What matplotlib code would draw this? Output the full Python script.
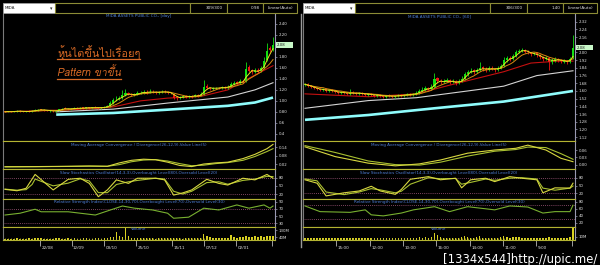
import numpy as np
import pandas as pd
import matplotlib
matplotlib.use("Agg")
import matplotlib.pyplot as plt
from matplotlib import font_manager as fm
from matplotlib.ft2font import FT2Font
from matplotlib.font_manager import FontProperties
from matplotlib.patches import Rectangle
from matplotlib.ticker import MultipleLocator
from matplotlib.transforms import blended_transform_factory, ScaledTranslation

# ------------------------------------------------------------------ data
# ---- left window: daily
left_open = [0.81,0.80,0.81,0.80,0.81,0.82,0.81,0.80,0.82,0.81,0.82,0.82,0.85,0.84,0.83,0.81,0.82,0.81,
             0.83,0.85,0.87,0.86,0.85,0.86,0.87,0.86,0.88,0.87,0.88,0.87,0.89,0.88,0.87,0.88,0.89,
             0.90,0.97,1.03,1.04,1.06,1.10,1.15,1.12,1.10,1.12,
             1.14,1.15,1.17,1.15,1.17,1.16,1.15,1.16,1.17,1.16,1.15,1.12,1.07,
             1.05,1.07,1.08,1.07,1.09,1.08,1.10,1.09,1.12,1.27,1.24,1.22,1.23,1.24,1.23,1.25,1.24,
             1.26,1.30,1.34,1.32,1.37,1.36,1.62,1.56,1.52,1.57,1.54,1.60,1.74,1.96,1.92]
left_close = [0.80,0.81,0.80,0.81,0.82,0.81,0.80,0.81,0.81,0.82,0.83,0.84,0.84,0.83,0.82,0.82,0.81,0.82,
              0.85,0.86,0.86,0.85,0.86,0.87,0.86,0.87,0.87,0.88,0.87,0.88,0.88,0.87,0.88,0.89,0.90,
              0.96,1.02,1.04,1.06,1.10,1.14,1.12,1.10,1.12,1.14,
              1.15,1.16,1.15,1.17,1.16,1.15,1.16,1.17,1.16,1.15,1.14,1.06,1.05,
              1.07,1.08,1.07,1.09,1.08,1.10,1.09,1.12,1.26,1.24,1.22,1.23,1.24,1.23,1.25,1.24,1.26,
              1.30,1.33,1.32,1.36,1.34,1.58,1.55,1.52,1.56,1.53,1.60,1.72,1.90,1.93,2.02]
left_high = [0.82,0.82,0.82,0.82,0.83,0.83,0.82,0.82,0.83,0.83,0.85,0.86,0.86,0.85,0.84,0.83,0.83,0.83,
             0.86,0.87,0.88,0.87,0.87,0.88,0.88,0.88,0.89,0.89,0.89,0.89,0.90,0.89,0.89,0.90,0.92,
             0.99,1.05,1.08,1.09,1.20,1.21,1.17,1.14,1.15,1.18,
             1.18,1.19,1.19,1.21,1.19,1.18,1.18,1.20,1.19,1.18,1.17,1.13,1.09,
             1.09,1.10,1.10,1.11,1.11,1.12,1.12,1.16,1.38,1.30,1.26,1.25,1.26,1.26,1.27,1.27,1.29,
             1.35,1.37,1.36,1.40,1.38,1.70,1.66,1.58,1.60,1.60,1.64,1.80,2.05,1.99,2.17]
left_low = [0.79,0.79,0.79,0.79,0.80,0.80,0.79,0.79,0.80,0.80,0.81,0.81,0.83,0.82,0.81,0.80,0.80,0.80,
            0.82,0.84,0.85,0.84,0.84,0.85,0.85,0.85,0.86,0.86,0.86,0.86,0.87,0.86,0.86,0.87,0.88,
            0.89,0.95,1.00,1.02,1.04,1.08,1.10,1.08,1.08,1.10,
            1.12,1.13,1.13,1.14,1.14,1.13,1.13,1.14,1.14,1.13,1.12,1.03,1.02,
            1.04,1.05,1.05,1.06,1.06,1.07,1.07,1.08,1.11,1.22,1.20,1.20,1.21,1.21,1.21,1.22,1.22,
            1.25,1.28,1.30,1.30,1.32,1.35,1.52,1.49,1.50,1.50,1.52,1.58,1.72,1.88,1.90]
left_volume_m = [24,22,25,23,26,24,22,25,27,24,30,28,26,24,22,25,23,26,
                 28,25,24,26,23,27,25,24,26,28,25,23,27,26,24,29,32,
                 45,38,109,60,42,170,50,35,30,33,
                 30,28,26,29,27,25,28,30,27,26,29,35,30,
                 27,25,28,26,30,27,29,35,80,60,38,30,28,32,30,29,34,
                 68,40,36,45,42,50,44,38,55,40,50,45,60,55,58]
left_red_idx = [0, 18, 30, 36, 45, 54, 65, 74, 83, 89]
left_red = [0.80, 0.83, 0.86, 0.89, 1.00, 1.05, 1.08, 1.20, 1.47, 1.64]
left_white_idx = [17, 36, 54, 74, 83, 89]
left_white = [0.80, 0.85, 0.96, 1.07, 1.20, 1.33]
left_cyan_idx = [17, 36, 54, 74, 83, 89]
left_cyan = [0.75, 0.78, 0.84, 0.91, 0.97, 1.06]
left_macd_idx = [0, 10, 21, 28, 34, 38, 42, 46, 50, 54, 58, 62, 66, 70, 74, 79, 83, 87, 89]
left_macd = [0.003, 0.004, 0.006, 0.008, 0.006, 0.030, 0.048, 0.056, 0.052, 0.035, 0.012, 0.004,
             0.022, 0.030, 0.035, 0.060, 0.090, 0.130, 0.160]
left_macd_sig = [0.002, 0.003, 0.005, 0.007, 0.006, 0.018, 0.038, 0.050, 0.053, 0.043, 0.025, 0.010,
                 0.014, 0.025, 0.032, 0.048, 0.075, 0.110, 0.130]
left_stoch_idx = [0, 4, 7, 9, 10, 16, 21, 25, 28, 31, 34, 37, 41, 44, 50, 53, 56, 59, 62, 67, 71, 74, 79, 83, 87, 89]
left_stoch_k = [37, 32, 41, 75, 92, 35, 74, 78, 59, 10, 35, 72, 59, 78, 78, 72, 16, 24, 35, 74, 59, 53, 78, 72, 92, 78]
left_stoch_d = [38, 34, 36, 55, 75, 50, 60, 76, 68, 25, 25, 55, 65, 70, 78, 75, 30, 20, 30, 62, 65, 56, 70, 75, 85, 84]
left_rsi_idx = [0, 5, 10, 12, 21, 30, 35, 39, 43, 49, 54, 56, 61, 66, 71, 77, 81, 86, 88, 89]
left_rsi = [53, 58, 69, 62, 62, 53, 67, 78, 72, 67, 58, 44, 47, 72, 67, 81, 72, 81, 72, 78]
left_date_pos = [11.7, 22.1, 33.0, 43.6, 55.4, 66.1, 76.8, 88.6]
left_date_labels = ["22/08", "12/09", "03/10", "25/10", "15/11", "07/12", "02/01", ""]

# ---- right window: 60 minutes
right_open = [1.66,1.67,1.65,1.64,1.63,1.62,1.61,1.62,1.60,1.61,1.60,
              1.59,1.58,1.59,1.58,1.57,1.59,1.58,1.57,1.58,1.57,1.56,
              1.57,1.56,1.55,1.56,1.55,1.54,1.56,1.55,1.54,1.55,1.56,1.55,1.56,1.57,1.56,1.57,
              1.58,1.60,1.61,1.63,1.62,1.64,1.73,1.70,1.69,1.70,1.71,1.69,1.70,1.68,1.70,
              1.72,1.78,1.80,1.82,1.80,1.82,1.85,1.83,1.82,1.84,1.83,1.82,1.84,1.86,1.92,1.94,1.93,
              1.96,2.00,2.02,2.03,2.02,2.00,1.98,1.99,1.97,1.95,1.93,1.94,1.90,1.92,1.93,1.92,1.90,1.91,1.90,1.94]
right_close = [1.67,1.65,1.64,1.63,1.62,1.61,1.62,1.60,1.61,1.60,1.59,
               1.58,1.59,1.58,1.57,1.58,1.58,1.57,1.58,1.57,1.56,1.57,
               1.56,1.55,1.56,1.55,1.54,1.55,1.55,1.54,1.55,1.56,1.55,1.56,1.57,1.56,1.57,1.58,
               1.60,1.61,1.63,1.62,1.64,1.72,1.70,1.69,1.70,1.71,1.69,1.70,1.68,1.70,1.72,
               1.78,1.80,1.81,1.80,1.82,1.84,1.83,1.82,1.84,1.83,1.82,1.84,1.86,1.92,1.94,1.93,1.96,
               2.00,2.02,2.03,2.01,2.00,1.98,1.99,1.97,1.95,1.93,1.94,1.90,1.92,1.93,1.92,1.91,1.91,1.90,1.93,2.05]
right_high = [1.68,1.68,1.66,1.65,1.64,1.63,1.63,1.63,1.62,1.62,1.61,
              1.60,1.60,1.60,1.59,1.62,1.60,1.59,1.59,1.59,1.58,1.58,
              1.58,1.57,1.57,1.57,1.56,1.56,1.57,1.56,1.56,1.57,1.57,1.57,1.58,1.58,1.58,1.60,
              1.62,1.64,1.65,1.64,1.67,1.79,1.75,1.72,1.72,1.73,1.72,1.72,1.71,1.72,1.76,
              1.80,1.82,1.84,1.83,1.84,1.90,1.86,1.85,1.86,1.86,1.84,1.86,1.88,1.95,1.96,1.96,1.98,
              2.03,2.04,2.05,2.04,2.03,2.01,2.01,2.00,1.98,1.96,1.96,1.95,1.94,1.95,1.94,1.93,1.93,1.92,1.95,2.18]
right_low = [1.65,1.64,1.63,1.62,1.61,1.60,1.60,1.59,1.59,1.59,1.58,
             1.57,1.57,1.57,1.56,1.56,1.57,1.56,1.56,1.56,1.55,1.55,
             1.55,1.54,1.54,1.54,1.53,1.53,1.54,1.53,1.53,1.54,1.54,1.54,1.55,1.55,1.55,1.56,
             1.57,1.59,1.60,1.61,1.61,1.63,1.68,1.67,1.68,1.69,1.67,1.68,1.66,1.67,1.69,
             1.71,1.76,1.79,1.78,1.79,1.81,1.81,1.80,1.81,1.82,1.80,1.81,1.83,1.85,1.90,1.91,1.92,
             1.95,1.99,2.00,1.99,1.98,1.96,1.97,1.95,1.93,1.91,1.92,1.82,1.88,1.90,1.90,1.89,1.89,1.88,1.89,1.93]
right_volume_m = [7,6,5,7,6,5,6,7,5,6,5,
                  6,5,7,6,8,5,6,5,6,7,5,
                  6,5,6,7,5,6,5,6,5,7,6,5,6,7,6,8,
                  9,8,10,8,9,22,18,9,7,8,6,7,6,8,10,
                  14,9,8,7,9,12,8,7,8,6,7,8,9,13,10,8,9,
                  10,9,8,7,8,7,6,7,8,7,6,11,8,7,6,7,6,7,9,45]
right_red_idx = [0, 21, 37, 48, 66, 75, 84, 89]
right_red = [1.57, 1.54, 1.57, 1.66, 1.80, 1.89, 1.91, 1.91]
right_white_idx = [0, 21, 37, 54, 66, 77, 89]
right_white = [1.42, 1.50, 1.53, 1.60, 1.65, 1.76, 1.81]
right_cyan_idx = [0, 21, 43, 66, 89]
right_cyan = [1.30, 1.35, 1.42, 1.49, 1.60]
right_macd_idx = [0, 10, 21, 30, 38, 45, 54, 63, 70, 74, 80, 85, 89]
right_macd = [0.073, 0.033, 0.006, -0.005, 0.003, 0.019, 0.047, 0.060, 0.067, 0.080, 0.060, 0.026, 0.012]
right_macd_sig = [0.078, 0.050, 0.015, 0.000, -0.002, 0.010, 0.035, 0.055, 0.062, 0.072, 0.070, 0.045, 0.022]
right_stoch_idx = [0, 4, 7, 13, 18, 22, 25, 30, 32, 35, 41, 45, 50, 52, 55, 60, 63, 68, 72, 77, 79, 83, 88, 89]
right_stoch_k = [72, 59, 10, 22, 29, 47, 29, 16, 35, 74, 84, 72, 78, 41, 72, 78, 65, 84, 78, 72, 22, 41, 40, 59]
right_stoch_d = [75, 68, 25, 15, 25, 38, 33, 22, 28, 55, 80, 76, 77, 55, 62, 75, 70, 78, 80, 75, 40, 32, 40, 48]
right_rsi_idx = [0, 5, 15, 20, 22, 26, 32, 36, 43, 48, 54, 59, 63, 68, 74, 79, 83, 88, 89]
right_rsi = [68, 52, 50, 57, 43, 40, 48, 57, 66, 52, 66, 61, 57, 68, 65, 48, 52, 52, 70]
right_date_pos = [10.4, 21.5, 32.6, 43.6, 54.7, 65.8, 76.8, 88.6]
right_date_labels = ["15:00", "12:00", "10:00", "16:00", "14:00", "11:00", "9:00", ""]

symbol = "MIDA"
left_title = "MIDA ASSETS PUBLIC CO., [day]"
right_title = "MIDA ASSETS PUBLIC CO., [60]"
left_counter, right_counter = "309/300", "306/300"
left_value, right_value = "0.98", "1.40"
scale_text = "Linear(Auto)"
left_last_label, right_last_label = "2.08", "2.08"
macd_title = "Moving Average Convergence / Divergence(26,12,9),Value Line(5)"
stoch_title = "Slow Stochastics Oscillator(14,3,3),Overbought Level(80),Oversold Level(20)"
rsi_title = "Relative Strength Index(CLOSE,14,30,70),Overbought Level(70),Oversold Level(30)"
vol_title = "Volume"
note_line1 = "หุ้นไต่ขึ้นไปเรื่อยๆ"
note_line2 = "Pattern ขาขึ้น"
watermark = "[1334x544]http://upic.me/"

# ------------------------------------------------------------------ fonts
def font_covering(text, prefer=()):
    cps = {ord(ch) for ch in text if not ch.isspace()}
    entries = list(fm.fontManager.ttflist)
    entries.sort(key=lambda f: 0 if any(p.lower() in f.name.lower() for p in prefer) else 1)
    seen = set()
    for f in entries:
        if f.fname in seen:
            continue
        seen.add(f.fname)
        try:
            cmap = FT2Font(f.fname).get_charmap()
        except Exception:
            continue
        if cps <= set(cmap.keys()):
            return f.name
    return None

thai_font = font_covering(note_line1 + note_line2,
                          prefer=("Thai", "Loma", "Garuda", "Tlwg", "Waree", "Sawasdee",
                                  "Kinnari", "Norasi", "Umpush", "Laksaman", "Purisa"))
thai_family = [thai_font, "DejaVu Sans"] if thai_font else ["DejaVu Sans"]

narrow_prop = None
for f in fm.fontManager.ttflist:
    if f.name == "Liberation Sans Narrow":
        narrow_prop = FontProperties(family="Liberation Sans Narrow")
        break
if narrow_prop is None:
    for f in fm.fontManager.ttflist:
        if f.name == "DejaVu Sans" and str(f.stretch) in ("condensed", "semi-condensed"):
            narrow_prop = FontProperties(family="DejaVu Sans", stretch="condensed")
            break
if narrow_prop is None:
    narrow_prop = FontProperties(family="DejaVu Sans")

plt.rcParams["font.family"] = ["DejaVu Sans"]

# ------------------------------------------------------------------ figure
W, H = 600, 265
fig = plt.figure(figsize=(W / 100, H / 100), dpi=100, facecolor="black")

YEL = "#b4b432"
TITLE_C = "#4f7fd6"
LAB_C = "#e2e2e2"
REF_C = "#a85c80"


def add_px(x0, y0, x1, y1, z=1):
    ax = fig.add_axes([x0 / W, 1 - y1 / H, (x1 - x0) / W, (y1 - y0) / H], zorder=z)
    ax.set_facecolor("black")
    return ax


def style(ax, xlim, ylim, yticks, ylabels, top=True):
    ax.set_xlim(xlim)
    ax.set_ylim(ylim)
    ax.spines["top"].set_visible(top)
    ax.spines["top"].set_color(YEL)
    ax.spines["bottom"].set_color(YEL)
    ax.spines["left"].set_color("#7a7a7a")
    ax.spines["right"].set_color("#9898b0")
    for s in ax.spines.values():
        s.set_linewidth(0.8)
    ax.yaxis.tick_right()
    ax.set_yticks(yticks)
    ax.set_yticklabels(ylabels)
    ax.tick_params(axis="y", colors="#9898b0", labelcolor=LAB_C, labelsize=2.8,
                   length=1.5, width=0.5, pad=1.2)
    ax.tick_params(axis="x", bottom=False, labelbottom=False)


def panel_title(ax, text, px_from_top, h_px):
    ax.text(0.5, 1 - px_from_top / h_px, text, transform=ax.transAxes, ha="center",
            va="center", color=TITLE_C, fontsize=3.0)


def draw_window(x0, x1, d):
    o = np.asarray(d["open"]); c = np.asarray(d["close"])
    hi = np.asarray(d["high"]); lo = np.asarray(d["low"])
    n = len(c)
    xs = np.arange(n)
    per = (x1 - x0 - 4) / (n - 1)
    xlim = (-2 / per, n - 1 + 2 / per)

    # main price panel
    axm = add_px(x0, 14, x1, 141)
    style(axm, xlim, d["price_lim"], d["price_ticks"], d["price_labels"], top=False)
    axm.text(0.5, 1 - 2.5 / 127, d["title"], transform=axm.transAxes, ha="center",
             va="center", color=TITLE_C, fontsize=3.0)
    axm.plot(d["cyan_idx"], d["cyan"], color="#8ffcfc", lw=1.9, zorder=2, solid_capstyle="butt")
    axm.plot(d["white_idx"], d["white"], color="#d4d4d4", lw=0.8, zorder=2)
    axm.plot(d["red_idx"], d["red"], color="#c41010", lw=0.8, zorder=2)
    ma_slow = pd.Series(c).rolling(7, min_periods=1).mean()
    ma_fast = pd.Series(c).rolling(3, min_periods=1).mean()
    up = c >= o
    cols = np.where(up, "#12e012", "#f01414")
    axm.vlines(xs, lo, hi, colors=cols, lw=0.6, zorder=3)
    axm.bar(xs, np.maximum(np.abs(c - o), 0.004), bottom=np.minimum(o, c), width=0.7,
            color=cols, lw=0, zorder=3)
    axm.plot(xs, ma_slow, color="#d88a10", lw=0.7, zorder=4)
    axm.plot(xs, ma_fast, color="#e6e020", lw=0.7, zorder=4)
    # current price box
    lo_y, hi_y = d["price_lim"]
    hgt = 5.5 * (hi_y - lo_y) / 127
    tr = blended_transform_factory(axm.transAxes, axm.transData)
    axm.add_patch(Rectangle((1 + 1 / (x1 - x0), c[-1] - hgt / 2), 17 / (x1 - x0), hgt,
                            transform=tr, clip_on=False, fc="#c8f8c8", ec="none", zorder=5))
    axm.text(1 + 2 / (x1 - x0), c[-1], d["last_label"], transform=tr, ha="left", va="center",
             fontsize=2.8, color="#202020", clip_on=False, zorder=6)

    # MACD
    axd = add_px(x0, 141, x1, 169)
    style(axd, xlim, d["macd_lim"], d["macd_ticks"], d["macd_labels"])
    panel_title(axd, macd_title, 4, 28)
    axd.plot(d["macd_idx"], d["macd_sig"], color="#a8c030", lw=0.8)
    axd.plot(d["macd_idx"], d["macd"], color="#d8d840", lw=0.8)

    # stochastic
    axs = add_px(x0, 169, x1, 199)
    style(axs, xlim, d["stoch_lim"], [20, 50, 80], ["20", "50", "80"])
    panel_title(axs, stoch_title, 4, 30)
    for lv in (80, 20):
        axs.axhline(lv, color=REF_C, lw=0.6, ls=(0, (1, 1.5)))
    axs.plot(d["stoch_idx"], d["stoch_d"], color="#a8c030", lw=0.8)
    axs.plot(d["stoch_idx"], d["stoch_k"], color="#d8d840", lw=0.8)

    # RSI
    axr = add_px(x0, 199, x1, 227)
    style(axr, xlim, d["rsi_lim"], d["rsi_ticks"], [str(t) for t in d["rsi_ticks"]])
    panel_title(axr, rsi_title, 3, 28)
    for lv in (70, 30):
        axr.axhline(lv, color=REF_C, lw=0.6, ls=(0, (1, 1.5)))
    axr.plot(d["rsi_idx"], d["rsi"], color="#78b030", lw=0.8)

    # volume
    axv = add_px(x0, 227, x1, 240)
    style(axv, xlim, d["vol_lim"], d["vol_ticks"], d["vol_labels"])
    panel_title(axv, vol_title, 2.5, 13)
    axv.bar(xs, d["volume"], width=0.5, color="#d8d020", lw=0)
    axv.tick_params(axis="x", bottom=True, labelbottom=True, which="major", direction="out",
                    length=4, width=0.6, colors="#b8b8b8", labelcolor=LAB_C, labelsize=3.0, pad=0.5)
    axv.xaxis.set_minor_locator(MultipleLocator(1.0))
    axv.tick_params(axis="x", which="minor", direction="in", length=1.5, width=0.5, colors=YEL)
    axv.set_xticks(d["date_pos"])
    axv.set_xticklabels(d["date_labels"])
    off = ScaledTranslation(1.5 / 100, 0, fig.dpi_scale_trans)
    for lb in axv.get_xticklabels():
        lb.set_ha("left")
        lb.set_transform(lb.get_transform() + off)


left = dict(open=left_open, close=left_close, high=left_high, low=left_low, volume=left_volume_m,
            red_idx=left_red_idx, red=left_red, white_idx=left_white_idx, white=left_white,
            cyan_idx=left_cyan_idx, cyan=left_cyan,
            macd_idx=left_macd_idx, macd=left_macd, macd_sig=left_macd_sig,
            stoch_idx=left_stoch_idx, stoch_k=left_stoch_k, stoch_d=left_stoch_d,
            rsi_idx=left_rsi_idx, rsi=left_rsi, date_pos=left_date_pos, date_labels=left_date_labels,
            title=left_title, last_label=left_last_label,
            price_lim=(0.27, 2.58),
            price_ticks=[0.4, 0.6, 0.8, 1.0, 1.2, 1.4, 1.6, 1.8, 2.2, 2.4],
            price_labels=["0.4", "0.6", "0.80", "1.00", "1.20", "1.40", "1.60", "1.80", "2.20", "2.40"],
            macd_lim=(-0.013, 0.184), macd_ticks=[0.02, 0.08, 0.14], macd_labels=["0.02", "0.08", "0.14"],
            stoch_lim=(1.6, 112), rsi_lim=(19.7, 97.5), rsi_ticks=[30, 50, 70, 90],
            vol_lim=(6.7, 167), vol_ticks=[40, 130], vol_labels=["40M", "130M"])
right = dict(open=right_open, close=right_close, high=right_high, low=right_low, volume=right_volume_m,
             red_idx=right_red_idx, red=right_red, white_idx=right_white_idx, white=right_white,
             cyan_idx=right_cyan_idx, cyan=right_cyan,
             macd_idx=right_macd_idx, macd=right_macd, macd_sig=right_macd_sig,
             stoch_idx=right_stoch_idx, stoch_k=right_stoch_k, stoch_d=right_stoch_d,
             rsi_idx=right_rsi_idx, rsi=right_rsi, date_pos=right_date_pos, date_labels=right_date_labels,
             title=right_title, last_label=right_last_label,
             price_lim=(1.08, 2.40),
             price_ticks=[1.12, 1.20, 1.28, 1.36, 1.44, 1.52, 1.60, 1.68, 1.76, 1.84, 1.92, 2.00, 2.16, 2.24, 2.32],
             price_labels=["1.12", "1.20", "1.28", "1.36", "1.44", "1.52", "1.60", "1.68", "1.76", "1.84",
                           "1.92", "2.00", "2.16", "2.24", "2.32"],
             macd_lim=(-0.018, 0.097), macd_ticks=[0.0, 0.03, 0.06], macd_labels=["0.00", "0.03", "0.06"],
             stoch_lim=(-1.9, 113.5), rsi_lim=(8.7, 87.6), rsi_ticks=[20, 40, 60, 80],
             vol_lim=(0, 43), vol_ticks=[10], vol_labels=["10M"])

draw_window(3, 275, left)
draw_window(303, 575, right)

# ------------------------------------------------------------------ overlay (frame, header, notes)
ov = fig.add_axes([0, 0, 1, 1], zorder=20)
ov.set_xlim(0, W)
ov.set_ylim(H, 0)
ov.axis("off")
ov.patch.set_alpha(0)

ov.plot([300.5, 300.5], [14, 247], color="#9a9a9a", lw=1.0)

for dx, counter, value in ((0, left_counter, left_value), (300, right_counter, right_value)):
    ov.add_patch(Rectangle((3 + dx, 3), 52, 10, fc="white", ec="#a0a0a0", lw=0.6))
    ov.text(5 + dx, 8.2, symbol, fontsize=3.0, color="#202020", va="center", ha="left")
    ov.text(51.5 + dx, 8.2, "▾", fontsize=3.5, color="#303030", va="center", ha="center")
    for a, b in ((55, 190), (190, 227), (227, 263), (263, 297)):
        ov.add_patch(Rectangle((a + dx, 3), b - a, 10, fc="black", ec="#8c8c36", lw=0.8))
    ov.text(223 + dx, 8.2, counter, fontsize=3.0, color=LAB_C, va="center", ha="right")
    ov.text(260 + dx, 8.2, value, fontsize=3.0, color=LAB_C, va="center", ha="right")
    ov.text(280 + dx, 8.2, scale_text, fontsize=3.0, color=LAB_C, va="center", ha="center")

renderer = fig.canvas.get_renderer()


def fit_width(t, target):
    for _ in range(3):
        bb = t.get_window_extent(renderer)
        if bb.width > 0:
            t.set_fontsize(t.get_fontsize() * target / bb.width)
    return t.get_window_extent(renderer)


NOTE_C = "#d86a26"
t1 = ov.text(57, 57.0, note_line1, family=thai_family, fontsize=9, color=NOTE_C,
             ha="left", va="baseline")
bb1 = fit_width(t1, 83)
ov.plot([bb1.x0, bb1.x1], [59.2, 59.2], color=NOTE_C, lw=0.9)
t2 = ov.text(57, 76.5, note_line2, family=thai_family, style="italic", fontsize=8,
             color=NOTE_C, ha="left", va="baseline")
bb2 = fit_width(t2, 64)
ov.plot([bb2.x0, bb2.x1], [78.6, 78.6], color=NOTE_C, lw=0.9)

wm = ov.text(597, 262.5, watermark, fontproperties=narrow_prop, fontsize=10, color="white",
             ha="right", va="baseline")
fit_width(wm, 152)

fig.savefig("out.png", dpi=100, facecolor="black")
